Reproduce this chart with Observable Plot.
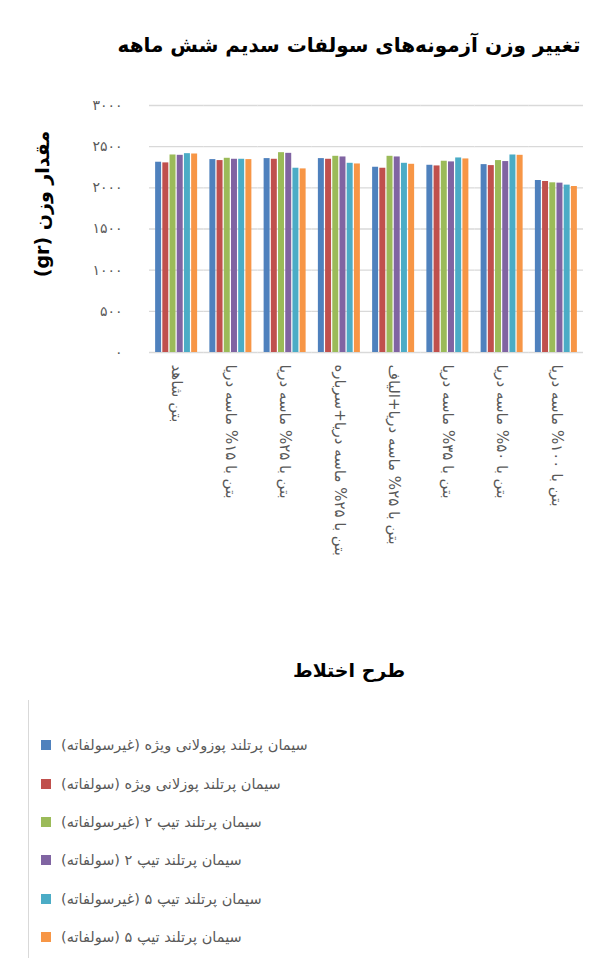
<!DOCTYPE html>
<html>
<head>
<meta charset="utf-8">
<script src="https://cdn.jsdelivr.net/npm/d3@7"></script>
<script src="https://cdn.jsdelivr.net/npm/@observablehq/plot@0.6"></script>
<style>
  body { margin: 0; background: #fff; font-family: "DejaVu Sans", sans-serif; }
  #wrap { width: 608px; position: relative; }
  #title { height: 80px; box-sizing: border-box; padding-top: 30px; line-height: 30px; text-align: center; font-weight: bold; font-size: 20px; color: #000; padding-left: 90px; }
  #xtitle { height: 60px; line-height: 60px; text-align: center; font-weight: bold; font-size: 19px; color: #000; padding-left: 90px; }
  #legend { margin-left: 28px; border-left: 1px solid #d9d9d9; padding-top: 26px; padding-left: 12px; height: 232px; }
  .item { height: 38.4px; display: flex; align-items: center; font-size: 14.5px; color: #595959; }
  .sw { width: 10px; height: 10px; margin-right: 10px; flex: none; }
  #chart svg [aria-label^="fx-axis"] text { font-size: 15px; }
  #chart svg [aria-label^="y-axis"] text { font-size: 14px; letter-spacing: 3px; }
</style>
</head>
<body>
<div id="wrap">
  <div id="title"></div>
  <div id="chart"></div>
  <div id="xtitle"></div>
  <div id="legend"></div>
</div>
<script>
const titleText = "تغییر وزن آزمونه‌های سولفات سدیم شش ماهه";
const xTitle = "طرح اختلاط";
const yTitle = "مقدار وزن (gr)";
const categories = [
  "بتن شاهد",
  "بتن با ۱۵% ماسه دریا",
  "بتن با ۲۵% ماسه دریا",
  "بتن با ۲۵% ماسه دریا+سرباره",
  "بتن با ۲۵% ماسه دریا+الیاف",
  "بتن با ۳۵% ماسه دریا",
  "بتن با ۵۰% ماسه دریا",
  "بتن با ۱۰۰% ماسه دریا"
];
const seriesNames = [
  "سیمان پرتلند پوزولانی ویژه (غیرسولفاته)",
  "سیمان پرتلند پوزلانی ویژه (سولفاته)",
  "سیمان پرتلند تیپ ۲ (غیرسولفاته)",
  "سیمان پرتلند تیپ ۲ (سولفاته)",
  "سیمان پرتلند تیپ ۵ (غیرسولفاته)",
  "سیمان پرتلند تیپ ۵ (سولفاته)"
];
const s1 = [2311, 2343, 2355, 2355, 2250, 2274, 2282, 2089];
const s2 = [2303, 2331, 2347, 2347, 2238, 2266, 2270, 2077];
const s3 = [2399, 2359, 2427, 2383, 2383, 2323, 2331, 2061];
const s4 = [2395, 2347, 2419, 2375, 2375, 2315, 2319, 2057];
const s5 = [2415, 2347, 2238, 2298, 2298, 2363, 2399, 2033];
const s6 = [2411, 2343, 2230, 2290, 2286, 2351, 2395, 2016];
const colors = ["#4F81BD", "#C0504D", "#9BBB59", "#8064A2", "#4BACC6", "#F79646"];
const yTicks = [0, 500, 1000, 1500, 2000, 2500, 3000];
const yTickLabels = ["۰", "۵۰۰", "۱۰۰۰", "۱۵۰۰", "۲۰۰۰", "۲۵۰۰", "۳۰۰۰"];

const seriesValues = [s1, s2, s3, s4, s5, s6];
const data = [];
seriesNames.forEach((s, j) => categories.forEach((c, i) => data.push({cat: c, series: s, value: seriesValues[j][i]})));

document.getElementById("title").textContent = titleText;
document.getElementById("xtitle").textContent = xTitle;

const chart = Plot.plot({
  width: 608,
  height: 560,
  marginLeft: 149,
  marginRight: 25,
  marginTop: 25,
  marginBottom: 288,
  style: {fontFamily: "DejaVu Sans, sans-serif", fontSize: "13px", color: "#595959", background: "white"},
  fx: {domain: categories, padding: 0, round: false, tickRotate: 90, tickPadding: 12, tickSize: 0, label: null, axis: "bottom"},
  x: {domain: seriesNames, axis: null, paddingInner: 0.17, paddingOuter: 0.85, round: false},
  y: {domain: [0, 3000], ticks: yTicks, tickFormat: d => yTickLabels[yTicks.indexOf(d)], tickSize: 0, tickPadding: 27, label: null},
  color: {domain: seriesNames, range: colors},
  marks: [
    Plot.gridY(yTicks, {stroke: "#d9d9d9", strokeOpacity: 1, strokeWidth: 1.3}),
    Plot.barY(data, {fx: "cat", x: "series", y: "value", fill: "series"}),
    Plot.text([yTitle], {fx: () => categories[0], text: d => d, frameAnchor: "left", textAnchor: "middle", dx: -107, dy: -25, rotate: -90, fontSize: 19, fontWeight: "bold", fill: "#000"})
  ]
});
chart.querySelectorAll('g[aria-label="text"] text').forEach(t => t.setAttribute("direction", "rtl"));
document.getElementById("chart").appendChild(chart);

const legend = document.getElementById("legend");
seriesNames.forEach((s, j) => {
  const it = document.createElement("div");
  it.className = "item";
  const sw = document.createElement("span");
  sw.className = "sw";
  sw.style.background = colors[j];
  const tx = document.createElement("span");
  tx.setAttribute("dir", "rtl");
  tx.textContent = s;
  it.appendChild(sw);
  it.appendChild(tx);
  legend.appendChild(it);
});
</script>
</body>
</html>
